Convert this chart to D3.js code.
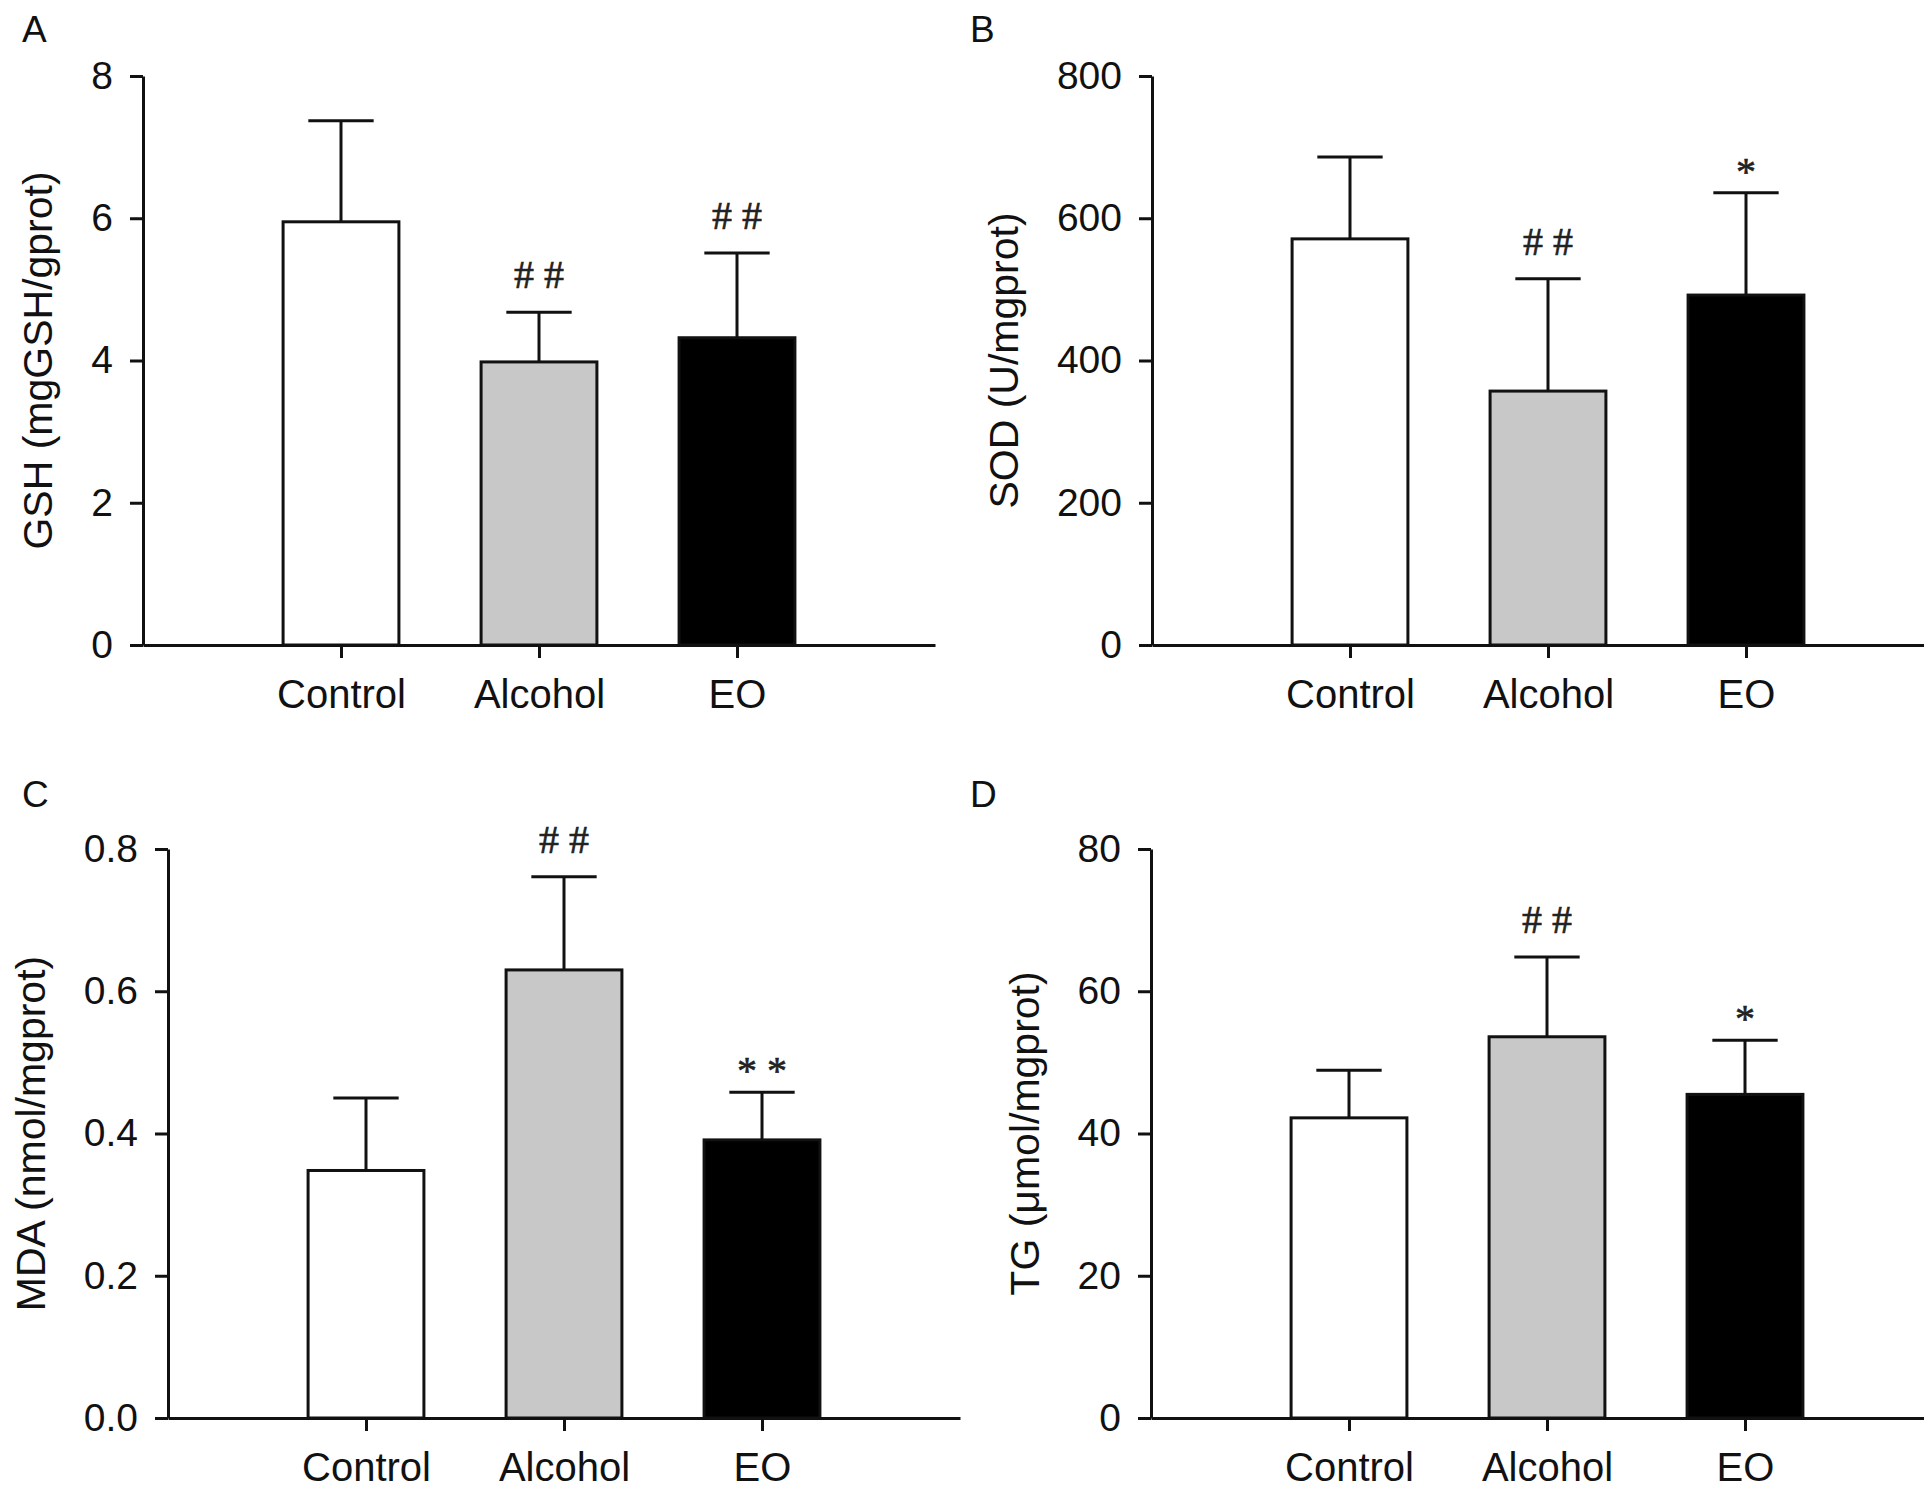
<!DOCTYPE html>
<html>
<head>
<meta charset="utf-8">
<script src="https://cdn.jsdelivr.net/npm/d3@7"></script>
<style>
  body { margin: 0; background: #fff; }
  text { font-family: "Liberation Sans", Arial, sans-serif; fill: #111; }
</style>
</head>
<body>
<div id="chart"></div>
<script>
// Data
var groups = ["Control", "Alcohol", "EO"];
var barColors = ["#ffffff", "#c8c8c8", "#000000"];

var gshMean = [5.95, 3.98, 4.32];
var gshSD = [1.42, 0.70, 1.19];
var gshMarks = ["", "##", "##"];
var gshTicks = [0, 2, 4, 6, 8];

var sodMean = [571, 357, 492];
var sodSD = [115, 158, 144];
var sodMarks = ["", "##", "*"];
var sodTicks = [0, 200, 400, 600, 800];

var mdaMean = [0.348, 0.630, 0.391];
var mdaSD = [0.102, 0.131, 0.067];
var mdaMarks = ["", "##", "**"];
var mdaTicks = [0, 0.2, 0.4, 0.6, 0.8];

var tgMean = [42.2, 53.6, 45.5];
var tgSD = [6.7, 11.2, 7.6];
var tgMarks = ["", "##", "*"];
var tgTicks = [0, 20, 40, 60, 80];

var svgWidth = 1924;
var svgHeight = 1498;
var plotWidth = 792;
var plotHeight = 569;

var svg = d3.select("#chart")
  .append("svg")
  .attr("width", svgWidth)
  .attr("height", svgHeight);

// one panel per measure
var panels = [
  { letter: "A", x: 143, y: 76, mean: gshMean, sd: gshSD, marks: gshMarks, ticks: gshTicks, fmt: d3.format("d"), title: "GSH (mgGSH/gprot)", lx: 22, ly: 42 },
  { letter: "B", x: 1152, y: 76, mean: sodMean, sd: sodSD, marks: sodMarks, ticks: sodTicks, fmt: d3.format("d"), title: "SOD (U/mgprot)", lx: 970, ly: 42 },
  { letter: "C", x: 168, y: 849, mean: mdaMean, sd: mdaSD, marks: mdaMarks, ticks: mdaTicks, fmt: d3.format(".1f"), title: "MDA (nmol/mgprot)", lx: 22, ly: 807 },
  { letter: "D", x: 1151, y: 849, mean: tgMean, sd: tgSD, marks: tgMarks, ticks: tgTicks, fmt: d3.format("d"), title: "TG (\u03bcmol/mgprot)", lx: 970, ly: 807 }
];

panels.forEach(function(p) {
  // panel letter
  svg.append("text")
    .attr("x", p.lx)
    .attr("y", p.ly)
    .style("font-size", "37px")
    .text(p.letter);

  var g = svg.append("g")
    .attr("transform", `translate(${p.x}, ${p.y})`);

  var xScale = d3.scalePoint()
    .domain(groups)
    .range([0, plotWidth])
    .padding(1);

  var yScale = d3.scaleLinear()
    .domain([0, d3.max(p.ticks)])
    .range([plotHeight, 0]);

  var step = xScale.step();
  var barW = step * 0.585;
  var capHalf = step * 0.165;

  var rows = groups.map(function(name, i) {
    return { name: name, mean: p.mean[i], sd: p.sd[i], mark: p.marks[i], fill: barColors[i] };
  });

  // error whiskers (upper only)
  g.selectAll(".whisker")
    .data(rows)
    .enter()
    .append("line")
    .attr("x1", d => xScale(d.name))
    .attr("x2", d => xScale(d.name))
    .attr("y1", d => yScale(d.mean))
    .attr("y2", d => yScale(d.mean + d.sd))
    .attr("stroke", "#111")
    .attr("stroke-width", 3);

  g.selectAll(".cap")
    .data(rows)
    .enter()
    .append("line")
    .attr("x1", d => xScale(d.name) - capHalf)
    .attr("x2", d => xScale(d.name) + capHalf)
    .attr("y1", d => yScale(d.mean + d.sd))
    .attr("y2", d => yScale(d.mean + d.sd))
    .attr("stroke", "#111")
    .attr("stroke-width", 3);

  // bars
  g.selectAll(".bar")
    .data(rows)
    .enter()
    .append("rect")
    .attr("x", d => xScale(d.name) - barW / 2)
    .attr("y", d => yScale(d.mean))
    .attr("width", barW)
    .attr("height", d => plotHeight - yScale(d.mean))
    .attr("fill", d => d.fill)
    .attr("stroke", "#111")
    .attr("stroke-width", 3);

  // significance marks
  g.selectAll(".mark")
    .data(rows.filter(d => d.mark))
    .enter()
    .append("text")
    .attr("x", d => xScale(d.name))
    .attr("y", d => yScale(d.mean + d.sd) - (d.mark[0] === "#" ? 24 : 8))
    .attr("text-anchor", "middle")
    .style("font-family", "'Liberation Serif', 'Times New Roman', serif")
    .style("font-size", "40px")
    .style("fill", "#222")
    .style("stroke", "#222")
    .style("stroke-width", 0.6)
    .text(d => d.mark.split("").join(" "));

  // axes
  var xAxis = g.append("g")
    .attr("transform", `translate(0, ${plotHeight})`)
    .call(d3.axisBottom(xScale).tickSize(13).tickPadding(22).tickSizeOuter(0));

  var yAxis = g.append("g")
    .call(d3.axisLeft(yScale).tickValues(p.ticks).tickFormat(p.fmt)
      .tickSize(13).tickPadding(17).tickSizeOuter(0));

  [xAxis, yAxis].forEach(function(ax) {
    ax.selectAll("path, line").attr("stroke", "#111").attr("stroke-width", 3);
    ax.selectAll("text")
      .attr("fill", "#111")
      .style("font-family", "'Liberation Sans', Arial, sans-serif");
  });
  xAxis.selectAll("text").style("font-size", "40px");
  yAxis.selectAll("text").style("font-size", "39px");

  // y axis title sits left of the widest tick label
  var widest = d3.max(yAxis.selectAll("text").nodes(), n => n.getComputedTextLength());
  var titleX = -13 - 17 - widest - 39;

  g.append("text")
    .attr("transform", `translate(${titleX}, ${plotHeight / 2}) rotate(-90)`)
    .attr("text-anchor", "middle")
    .style("font-size", "41px")
    .text(p.title);
});
</script>
</body>
</html>
